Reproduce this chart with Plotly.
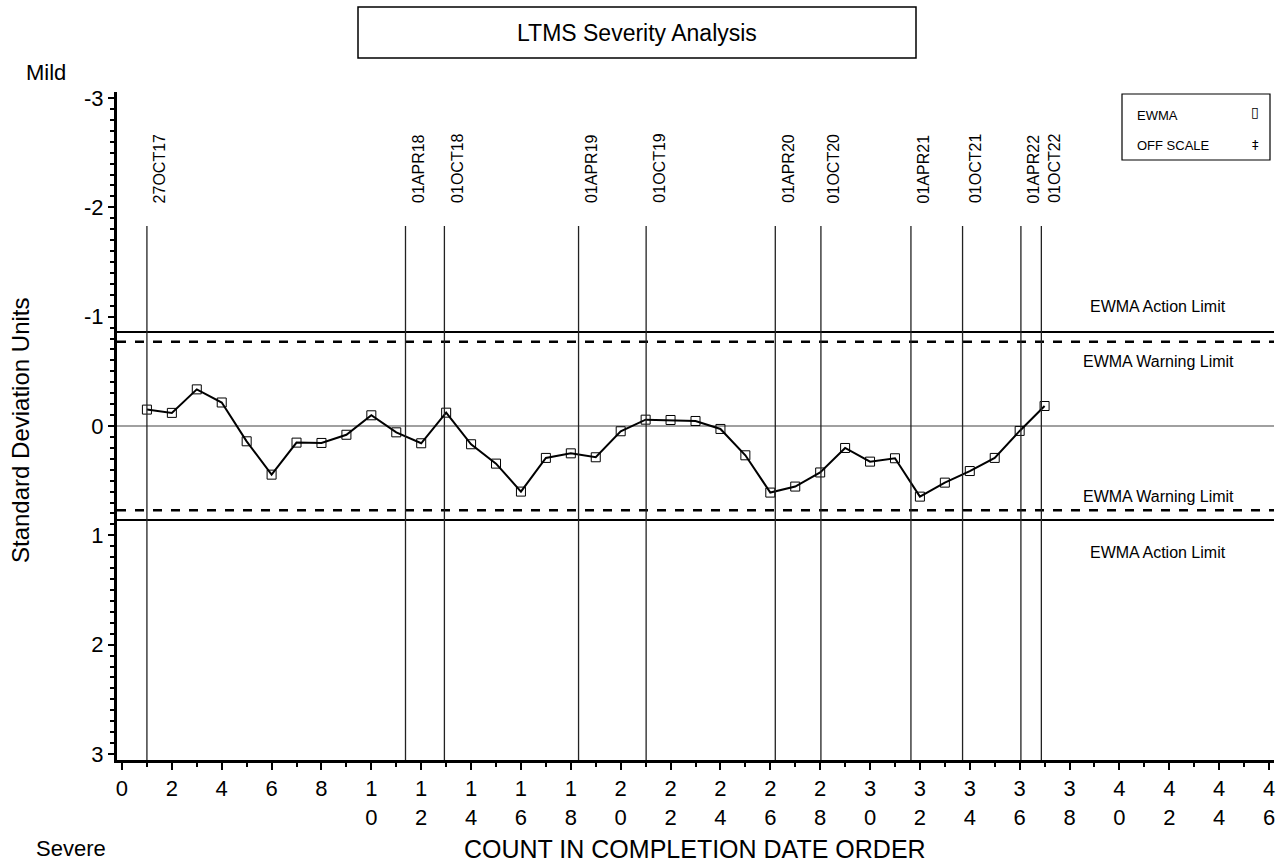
import plotly.graph_objects as go

# ---- data ----
count = list(range(1, 38))
ewma = [-0.15, -0.12, -0.335, -0.215, 0.14, 0.445, 0.152, 0.155, 0.08, -0.098,
        0.058, 0.158, -0.122, 0.167, 0.344, 0.60, 0.292, 0.25, 0.286, 0.048,
        -0.058, -0.055, -0.046, 0.027, 0.268, 0.609, 0.554, 0.425, 0.201, 0.326,
        0.295, 0.646, 0.518, 0.412, 0.292, 0.045, -0.183]

date_labels = ["27OCT17", "01APR18", "01OCT18", "01APR19", "01OCT19", "01APR20",
               "01OCT20", "01APR21", "01OCT21", "01APR22", "01OCT22"]
date_counts = [1.0, 11.37, 12.93, 18.31, 21.02, 26.2, 28.03, 31.64, 33.71, 36.05, 36.87]

warning_limit = 0.77
action_limit = 0.86

x_ticks = list(range(0, 47, 2))
x_ticktext = ["<br>".join(str(v)) for v in x_ticks]
y_ticks = [-3, -2, -1, 0, 1, 2, 3]
y_ticktext = [str(v) for v in y_ticks]

FONT = "Liberation Sans, Arial, sans-serif"

# plot area in pixels (for paper conversions)
W, H = 1285, 865
L, R, T, B = 117, 11, 92, 105
PW, PH = W - L - R, H - T - B

def px(xp):
    return (xp - L) / PW

def py(yp):
    return 1 - (yp - T) / PH

fig = go.Figure()

fig.add_trace(go.Scatter(
    x=count, y=ewma, mode="lines+markers",
    line=dict(color="black", width=2),
    marker=dict(symbol="square-open", size=9, color="black", line=dict(width=1)),
    showlegend=False, hoverinfo="x+y"))

shapes = []
# zero line
shapes.append(dict(type="line", xref="paper", x0=0, x1=1, yref="y", y0=0, y1=0,
                   line=dict(color="#a0a0a0", width=2), layer="below"))
# limits
for s in (-1, 1):
    shapes.append(dict(type="line", xref="paper", x0=0, x1=1, yref="y",
                       y0=s * action_limit, y1=s * action_limit,
                       line=dict(color="black", width=2)))
    shapes.append(dict(type="line", xref="paper", x0=0, x1=1, yref="y",
                       y0=s * warning_limit, y1=s * warning_limit,
                       line=dict(color="black", width=2.5, dash="dash")))
# date lines
for d in date_counts:
    shapes.append(dict(type="line", xref="x", x0=d, x1=d, yref="paper",
                       y0=0, y1=py(226), line=dict(color="#222222", width=1.3)))
# title box
shapes.append(dict(type="rect", xref="paper", yref="paper",
                   x0=px(358), x1=px(916), y0=py(58), y1=py(7),
                   line=dict(color="black", width=1.5)))
# legend box
shapes.append(dict(type="rect", xref="paper", yref="paper",
                   x0=px(1122), x1=px(1270), y0=py(160), y1=py(94),
                   line=dict(color="black", width=1.2)))

ann = []
for lab, d in zip(date_labels, date_counts):
    ann.append(dict(x=d, xref="x", y=py(205), yref="paper", text=lab,
                    textangle=-90, showarrow=False, xanchor="center",
                    yanchor="bottom", xshift=13,
                    font=dict(family=FONT, size=16, color="black")))

lim_font = dict(family=FONT, size=16, color="black")
for yv, ys, txt_s in [(-action_limit, 25, "EWMA Action Limit"),
                      (-warning_limit, -20, "EWMA Warning Limit"),
                      (warning_limit, 14, "EWMA Warning Limit"),
                      (action_limit, -32, "EWMA Action Limit")]:
    ann.append(dict(x=px(1158), xref="paper", y=yv, yref="y", yshift=ys,
                    xanchor="center", yanchor="middle",
                    text=txt_s, showarrow=False, font=lim_font))

def txt(x, y, s, size, xanchor="center", angle=0, family=FONT):
    return dict(x=px(x), y=py(y), xref="paper", yref="paper", text=s,
                xanchor=xanchor, yanchor="middle", textangle=angle,
                showarrow=False, font=dict(family=family, size=size, color="black"))

ann.append(txt(637, 33, "LTMS Severity Analysis", 23))
ann.append(txt(24, 72, "Mild", 22, xanchor="left"))
ann.append(txt(34, 848, "Severe", 22, xanchor="left"))
ann.append(txt(695, 849, "COUNT IN COMPLETION DATE ORDER", 25))
ann.append(txt(20, 430, "Standard Deviation Units", 24, angle=-90))

ann.append(txt(1135, 116, "EWMA", 13, xanchor="left"))
ann.append(txt(1135, 145, "OFF SCALE", 13, xanchor="left"))
ann.append(txt(1255, 112, "▯", 14, family="DejaVu Sans"))
ann.append(txt(1255, 144, "‡", 13, family="DejaVu Sans"))

fig.update_layout(
    width=W, height=H,
    margin=dict(l=L, r=R, t=T, b=B, pad=0),
    paper_bgcolor="white", plot_bgcolor="white",
    shapes=shapes, annotations=ann, showlegend=False,
    font=dict(family=FONT, color="black"),
    xaxis=dict(range=[-0.2, 46.2], tickvals=x_ticks, ticktext=x_ticktext,
               showline=True, linecolor="black", linewidth=3,
               ticks="outside", ticklen=7, tickwidth=2, tickcolor="black",
               minor=dict(dtick=1, tick0=0, ticks="outside", ticklen=4,
                          tickwidth=1.5, tickcolor="black"),
               showgrid=False, zeroline=False,
               tickfont=dict(family=FONT, size=22, color="black")),
    yaxis=dict(range=[3.055, -3.055], tickvals=y_ticks, ticktext=y_ticktext,
               showline=True, linecolor="black", linewidth=3,
               ticks="outside", ticklen=6, tickwidth=2, tickcolor="black",
               minor=dict(dtick=0.1, tick0=0, ticks="outside", ticklen=4,
                          tickwidth=1.5, tickcolor="black"),
               showgrid=False, zeroline=False,
               tickfont=dict(family=FONT, size=22, color="black")),
)

fig.write_html("out.html", config={"displayModeBar": False},
               post_script="document.body.style.margin='0px';"
                           "document.body.style.overflow='hidden';")
